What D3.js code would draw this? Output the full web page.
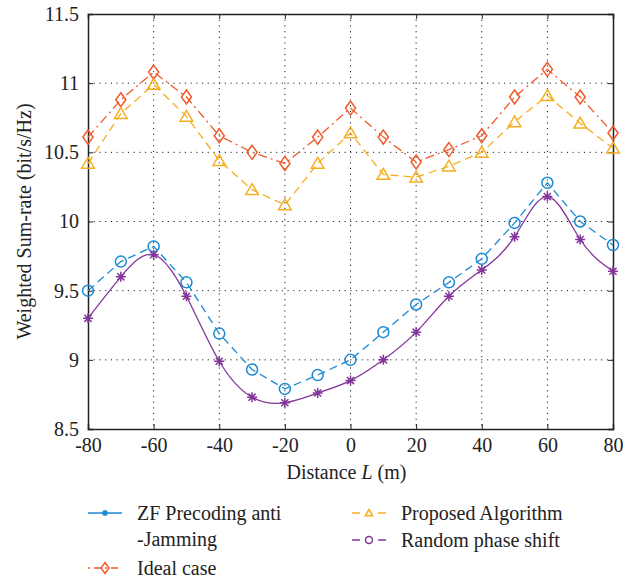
<!DOCTYPE html>
<html>
<head>
<meta charset="utf-8">
<script src="https://cdn.jsdelivr.net/npm/d3@7"></script>
<style>
  body { margin: 0; background: #fff; }
  text { font-family: "Liberation Serif", "DejaVu Serif", serif; fill: #222; }
</style>
</head>
<body>
<div id="chart"></div>
<script>
// data
var distance = [-80, -70, -60, -50, -40, -30, -20, -10, 0, 10, 20, 30, 40, 50, 60, 70, 80];
var idealRate = [10.61, 10.88, 11.08, 10.90, 10.62, 10.50, 10.42, 10.61, 10.82, 10.61, 10.43, 10.52, 10.62, 10.90, 11.10, 10.90, 10.64];
var proposedRate = [10.42, 10.78, 10.99, 10.76, 10.44, 10.23, 10.12, 10.42, 10.64, 10.34, 10.32, 10.40, 10.50, 10.72, 10.91, 10.71, 10.53];
var zfRate = [9.50, 9.71, 9.82, 9.56, 9.19, 8.93, 8.79, 8.89, 9.00, 9.20, 9.40, 9.56, 9.73, 9.99, 10.28, 10.00, 9.83];
var randomRate = [9.30, 9.60, 9.76, 9.46, 8.99, 8.73, 8.69, 8.76, 8.85, 9.00, 9.20, 9.46, 9.65, 9.89, 10.18, 9.87, 9.64];
var xTicks = [-80, -60, -40, -20, 0, 20, 40, 60, 80];
var yTicks = [8.5, 9, 9.5, 10, 10.5, 11, 11.5];

var width = 623, height = 580;
var plotLeft = 88, plotRight = 613, plotTop = 14, plotBottom = 429;
var fontSize = "20px";

var blue = "#1a8ad4", orange = "#f0592a", yellow = "#f5ae22", purple = "#83369a";

var svg = d3.select("#chart").append("svg")
    .attr("width", width)
    .attr("height", height);

var x = d3.scaleLinear().domain([-80, 80]).range([plotLeft, plotRight]);
var y = d3.scaleLinear().domain([8.5, 11.5]).range([plotBottom, plotTop]);

// grid
svg.append("g").selectAll("line")
    .data(xTicks.slice(1, -1))
    .enter().append("line")
    .attr("x1", function(d) { return x(d); })
    .attr("x2", function(d) { return x(d); })
    .attr("y1", plotTop).attr("y2", plotBottom)
    .attr("stroke", "#222").attr("stroke-width", 1)
    .attr("stroke-dasharray", "1.2,4.5");
svg.append("g").selectAll("line")
    .data(yTicks.slice(1, -1))
    .enter().append("line")
    .attr("y1", function(d) { return y(d); })
    .attr("y2", function(d) { return y(d); })
    .attr("x1", plotLeft).attr("x2", plotRight)
    .attr("stroke", "#222").attr("stroke-width", 1)
    .attr("stroke-dasharray", "1.2,4.5");

// axes
var plainFormat = function(d) { return String(d); };
var xAxis = d3.axisBottom(x).tickValues(xTicks).tickSize(-5).tickPadding(9).tickFormat(plainFormat);
var yAxis = d3.axisLeft(y).tickValues(yTicks).tickSize(-5).tickPadding(9).tickFormat(plainFormat);

svg.append("g").attr("transform", "translate(0," + plotBottom + ")").call(xAxis);
svg.append("g").attr("transform", "translate(" + plotLeft + ",0)").call(yAxis);
svg.append("g").attr("transform", "translate(0," + plotTop + ")")
    .call(d3.axisTop(x).tickValues(xTicks).tickSize(-5).tickFormat(""));
svg.append("g").attr("transform", "translate(" + plotRight + ",0)")
    .call(d3.axisRight(y).tickValues(yTicks).tickSize(-5).tickFormat(""));

svg.selectAll(".domain").attr("stroke", "#222").attr("stroke-width", 1.5);
svg.selectAll(".tick line").attr("stroke", "#222");
svg.selectAll(".tick text").style("font-family", "Liberation Serif, serif")
    .style("font-size", fontSize).attr("fill", "#222");

// axis titles
svg.append("text")
    .attr("x", (plotLeft + plotRight) / 2 - 4).attr("y", 472)
    .attr("text-anchor", "middle")
    .attr("dominant-baseline", "central")
    .style("font-size", fontSize)
    .html('Distance <tspan font-style="italic">L</tspan> (m)');

svg.append("text")
    .attr("transform", "translate(24," + ((plotTop + plotBottom) / 2) + ") rotate(-90)")
    .attr("text-anchor", "middle")
    .attr("dominant-baseline", "central")
    .style("font-size", fontSize)
    .text("Weighted Sum-rate (bit/s/Hz)");

// markers
function starPath(s) {
    var a = s / 2, b = a * 0.707;
    return "M" + (-a) + ",0L" + a + ",0M0," + (-a) + "L0," + a +
        "M" + (-b) + "," + (-b) + "L" + b + "," + b +
        "M" + (-b) + "," + b + "L" + b + "," + (-b);
}
function diamondPath(s) {
    var h = s / 2, w = s * 0.36;
    return "M0," + (-h) + "L" + w + ",0L0," + h + "L" + (-w) + ",0Z";
}
function trianglePath(s) {
    var h = s / 2;
    return "M0," + (-h) + "L" + (h * 1.05) + "," + (h * 0.8) + "L" + (-h * 1.05) + "," + (h * 0.8) + "Z";
}
function circlePath(s) {
    return d3.arc()({ innerRadius: 0, outerRadius: s / 2, startAngle: 0, endAngle: 2 * Math.PI });
}

var series = [
    { values: idealRate, color: orange, dash: "9,4,2,4", curve: d3.curveLinear, marker: diamondPath, size: 14 },
    { values: proposedRate, color: yellow, dash: "8,5", curve: d3.curveLinear, marker: trianglePath, size: 12 },
    { values: zfRate, color: blue, dash: "8,5", curve: d3.curveLinear, marker: circlePath, size: 11 },
    { values: randomRate, color: purple, dash: null, curve: d3.curveNatural, marker: starPath, size: 10 }
];

series.forEach(function(s) {
    var line = d3.line()
        .x(function(d, i) { return x(distance[i]); })
        .y(function(d) { return y(d); })
        .curve(s.curve);
    svg.append("path")
        .datum(s.values)
        .attr("d", line)
        .attr("fill", "none")
        .attr("stroke", s.color)
        .attr("stroke-width", 1.3)
        .attr("stroke-dasharray", s.dash);
    svg.append("g").selectAll("path")
        .data(s.values)
        .enter().append("path")
        .attr("transform", function(d, i) { return "translate(" + x(distance[i]) + "," + y(d) + ")"; })
        .attr("d", s.marker(s.size))
        .attr("fill", "none")
        .attr("stroke", s.color)
        .attr("stroke-width", 1.5);
});

// legend (as drawn in the figure)
var legendItems = [
    { label: ["ZF Precoding anti", "-Jamming"], color: blue, dash: null, marker: starPath, size: 6, x0: 88, y0: 513 },
    { label: ["Ideal case"], color: orange, dash: "2,4,7,4", marker: diamondPath, size: 11, x0: 88, y0: 568 },
    { label: ["Proposed Algorithm"], color: yellow, dash: "8,18,8", marker: trianglePath, size: 7, x0: 352, y0: 513 },
    { label: ["Random phase shift"], color: purple, dash: "8,18,8", marker: circlePath, size: 7, x0: 352, y0: 540 }
];

legendItems.forEach(function(item) {
    var g = svg.append("g");
    g.append("line")
        .attr("x1", item.x0).attr("x2", item.x0 + 34)
        .attr("y1", item.y0).attr("y2", item.y0)
        .attr("stroke", item.color).attr("stroke-width", 1.5)
        .attr("stroke-dasharray", item.dash);
    g.append("path")
        .attr("transform", "translate(" + (item.x0 + 17) + "," + item.y0 + ")")
        .attr("d", item.marker(item.size))
        .attr("fill", "none").attr("stroke", item.color).attr("stroke-width", 1.5);
    item.label.forEach(function(t, k) {
        g.append("text")
            .attr("x", item.x0 + 49).attr("y", item.y0 + k * 26)
            .attr("dominant-baseline", "central")
            .style("font-size", fontSize)
            .text(t);
    });
});
</script>
</body>
</html>
